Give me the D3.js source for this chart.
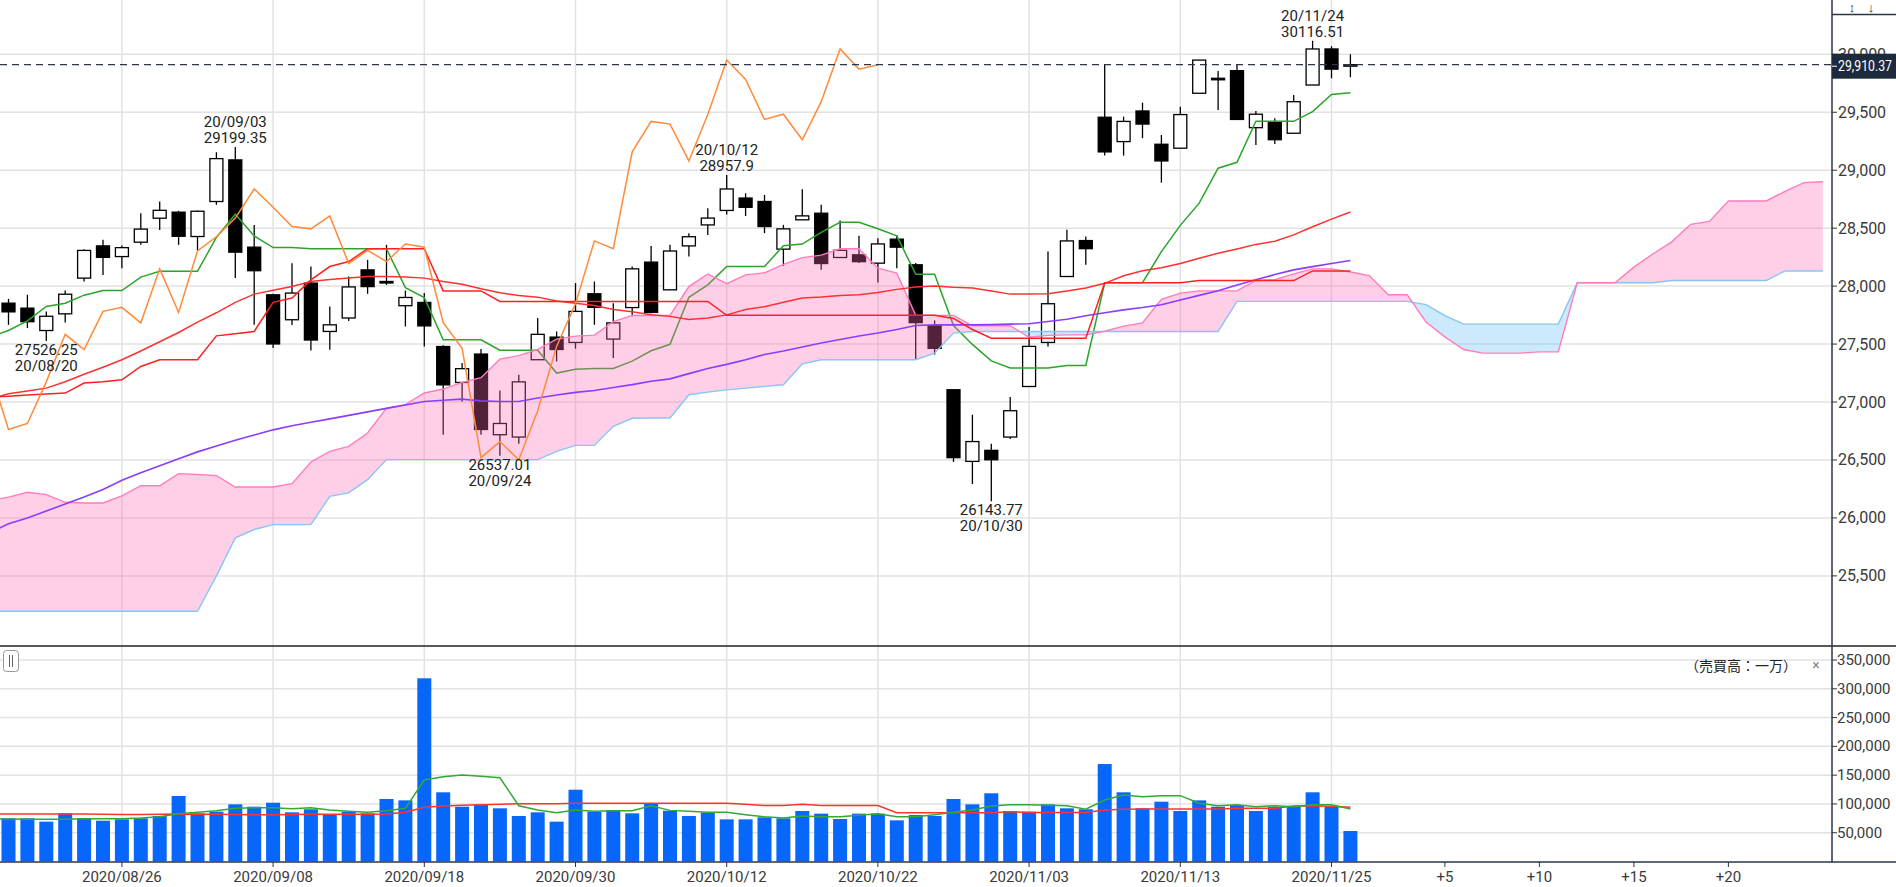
<!DOCTYPE html>
<html>
<head>
<meta charset="utf-8">
<script src="https://cdn.jsdelivr.net/npm/d3@7"></script>
<style>
  body { margin: 0; background: #fff; }
  svg { display: block; }
  text { font-family: Roboto, "Noto Sans", sans-serif; }
</style>
</head>
<body>
<div class="chart"></div>
<script>
// trading days (first one sits just off the left edge)
const dates = [
  "2020/08/17","2020/08/18","2020/08/19","2020/08/20","2020/08/21","2020/08/24","2020/08/25","2020/08/26","2020/08/27","2020/08/28","2020/08/31",
  "2020/09/01","2020/09/02","2020/09/03","2020/09/04","2020/09/08","2020/09/09","2020/09/10","2020/09/11","2020/09/14","2020/09/15","2020/09/16","2020/09/17","2020/09/18","2020/09/21","2020/09/22","2020/09/23","2020/09/24","2020/09/25","2020/09/28","2020/09/29","2020/09/30",
  "2020/10/01","2020/10/02","2020/10/05","2020/10/06","2020/10/07","2020/10/08","2020/10/09","2020/10/12","2020/10/13","2020/10/14","2020/10/15","2020/10/16","2020/10/19","2020/10/20","2020/10/21","2020/10/22","2020/10/23","2020/10/26","2020/10/27","2020/10/28","2020/10/29","2020/10/30",
  "2020/11/02","2020/11/03","2020/11/04","2020/11/05","2020/11/06","2020/11/09","2020/11/10","2020/11/11","2020/11/12","2020/11/13","2020/11/16","2020/11/17","2020/11/18","2020/11/19","2020/11/20","2020/11/23","2020/11/24","2020/11/25","2020/11/27"
];

const open = [
  27951, 27853, 27810, 27617, 27761, 28069, 28347, 28255, 28379, 28586, 28638,
  28428, 28730, 29089, 28336, 27925, 27710, 28026, 27609, 27725, 28140, 28040, 27831, 27859, 27479, 27169, 27414, 26718, 26698, 27365, 27560, 27514,
  27934, 27543, 27815, 28207, 27968, 28347, 28528, 28653, 28760, 28730, 28319, 28572, 28629, 28247, 28270, 28198, 28405, 28184, 27658, 27106, 26488, 26583,
  26698, 27134, 27514, 28083, 28393, 29457, 29247, 29511, 29224, 29190, 29664, 29793, 29859, 29367, 29414, 29319, 29735, 30046, 29905
];
const high = [
  27987, 27890, 27925, 27780, 27962, 28319, 28399, 28350, 28629, 28730, 28650,
  28652, 29155, 29199.35, 28528, 27935, 28198, 28169, 27824, 28083, 28227, 28356, 27962, 27940, 27490, 27336, 27457, 27100, 27235, 27724, 27609, 28026,
  28040, 27853, 28169, 28347, 28356, 28457, 28672, 28957.9, 28801, 28787, 28528, 28836, 28701, 28566, 28434, 28414, 28442, 28200, 27704, 27110, 26891, 26640,
  27043, 27647, 28298, 28486, 28428, 29914, 29462, 29583, 29304, 29548, 29951, 29856, 29916, 29511, 29448, 29649, 30116.51, 30070, 30000
];
const low = [
  27755, 27666, 27638, 27526.25, 27686, 28040, 28097, 28155, 28356, 28485, 28356,
  28307, 28701, 28069, 27666, 27466, 27664, 27445, 27451, 27700, 27934, 28010, 27652, 27480, 26718, 27005, 26718, 26537.01, 26640, 27365, 27350, 27460,
  27666, 27379, 27740, 27767, 27968, 28255, 28442, 28617, 28605, 28457, 28175, 28572, 28141, 28247, 28200, 28031, 28155, 27370, 27409, 26483, 26293, 26143.77,
  26681, 27134, 27480, 28083, 28184, 29126, 29126, 29276, 28893, 29190, 29664, 29520, 29434, 29218, 29227, 29319, 29735, 29793, 29802
];
const close = [
  27845, 27778, 27693, 27740, 27930, 28308, 28248, 28332, 28492, 28654, 28430,
  28646, 29100, 28293, 28133, 27501, 27940, 27535, 27666, 27993, 27996, 28032, 27902, 27657, 27148, 27288, 26763, 26815, 27174, 27584, 27453, 27782,
  27817, 27683, 28149, 27773, 28303, 28426, 28587, 28838, 28680, 28514, 28494, 28606, 28195, 28309, 28211, 28364, 28336, 27685, 27463, 26520, 26659, 26502,
  26925, 27480, 27848, 28390, 28323, 29158, 29421, 29398, 29080, 29480, 29950, 29783, 29438, 29483, 29263, 29591, 30046, 29872, 29910.37
];

// ichimoku conversion / base lines
const tenkan = [
  27560, 27617, 27700, 27825, 27853, 27922, 27962, 27962, 28078, 28128, 28128,
  28128, 28420, 28620, 28433, 28333, 28333, 28322, 28322, 28322, 28322, 28322, 27987, 27901, 27537, 27537, 27537, 27447, 27447, 27447, 27250, 27282,
  27289, 27289, 27353, 27442, 27498, 27904, 28011, 28169, 28169, 28169, 28349, 28363, 28463, 28550, 28550, 28495, 28434, 28103, 28103, 27660, 27497, 27355,
  27293, 27293, 27293, 27315, 27315, 28029, 28029, 28029, 28298, 28524, 28716, 29017, 29068, 29422, 29422, 29422, 29505, 29654, 29668
];
const kijun = [
  27045, 27050, 27060, 27070, 27077, 27164, 27175, 27192, 27307, 27365, 27365,
  27365, 27571, 27590, 27609, 27860, 27897, 28054, 28169, 28212, 28322, 28322, 28322, 28322, 27959, 27959, 27959, 27868, 27868, 27868, 27868, 27868,
  27868, 27868, 27868, 27868, 27868, 27868, 27868, 27748, 27748, 27748, 27748, 27748, 27748, 27748, 27748, 27748, 27748, 27748, 27748, 27721, 27626, 27551,
  27551, 27551, 27551, 27551, 27551, 28029, 28029, 28029, 28029, 28029, 28048, 28048, 28048, 28048, 28048, 28048, 28131, 28131, 28131
];
const ma25 = [
  27020, 27072, 27095, 27120, 27175, 27240, 27300, 27365, 27440, 27520, 27600,
  27690, 27770, 27860, 27931, 27965, 27997, 28040, 28057, 28070, 28083, 28083, 28078, 28069, 28040, 28017, 27977, 27942, 27919, 27905, 27871, 27852,
  27832, 27799, 27779, 27753, 27739, 27712, 27724, 27752, 27799, 27822, 27861, 27898, 27906, 27919, 27926, 27945, 27972, 27993, 28000, 27990, 27984, 27957,
  27931, 27932, 27935, 27958, 27983, 28024, 28090, 28133, 28159, 28195, 28240, 28284, 28321, 28360, 28387, 28442, 28512, 28578, 28640
];
const ma75 = [
  25870, 25950, 26000, 26060, 26120, 26180, 26245, 26325, 26390, 26450, 26510,
  26570, 26620, 26670, 26715, 26760, 26795, 26825, 26855, 26885, 26915, 26945, 26975, 27005, 27015, 27025, 27010, 27005, 27005, 27035, 27060, 27083,
  27100, 27125, 27150, 27180, 27200, 27245, 27290, 27325, 27365, 27410, 27440, 27475, 27510, 27540, 27570, 27595, 27625, 27660, 27666, 27666, 27666, 27668,
  27672, 27676, 27695, 27714, 27745, 27770, 27795, 27815, 27840, 27880, 27920, 27960, 28010, 28055, 28100, 28140, 28168, 28195, 28221
];

// leading spans, already shifted 25 bars ahead (first value sits at bar -1)
const spanA = [
  26150, 26180, 26221, 26201, 26135, 26129, 26129, 26190, 26278, 26278, 26382, 26375, 26365, 26267, 26267, 26267, 26296, 26483, 26574, 26617,
  26733, 26948, 26977, 27078, 27112, 27169, 27210, 27370, 27400, 27455, 27543, 27569, 27577, 27693, 27747, 27747, 27747, 27996, 28105, 28021,
  28097, 28115, 28188, 28246, 28267, 28322, 28322, 28155, 28112, 27748, 27748, 27748, 27658, 27658, 27658, 27559, 27575, 27579, 27579, 27611,
  27655, 27683, 27886, 27940, 27959, 27959, 27959, 28049, 28056, 28106, 28149, 28149, 28122, 28091, 27926, 27926, 27691, 27562, 27453, 27422,
  27422, 27422, 27433, 27433, 28029, 28029, 28029, 28164, 28277, 28382, 28533, 28558, 28735, 28735, 28735, 28818, 28893, 28900
];
const spanB = [
  25195, 25195, 25195, 25195, 25195, 25195, 25195, 25195, 25195, 25195, 25195, 25195, 25500, 25828, 25900, 25942, 25942, 25942, 26187, 26216,
  26330, 26503, 26503, 26503, 26503, 26503, 26503, 26503, 26503, 26503, 26574, 26626, 26626, 26790, 26860, 26862, 26862, 27063, 27085, 27105,
  27120, 27135, 27149, 27330, 27365, 27365, 27365, 27365, 27365, 27365, 27422, 27595, 27609, 27609, 27609, 27609, 27609, 27609, 27609, 27609,
  27609, 27609, 27609, 27609, 27609, 27609, 27868, 27868, 27868, 27868, 27868, 27868, 27868, 27868, 27868, 27868, 27841, 27746, 27672, 27672,
  27672, 27672, 27672, 27672, 28029, 28029, 28029, 28029, 28029, 28048, 28048, 28048, 28048, 28048, 28048, 28131, 28131, 28131
];

// volume (unit: 10,000 shares)
const volume = [
  78000, 75000, 75000, 69200, 83700, 75000, 70900, 73200, 75000, 79100, 113800,
  83700, 86600, 99300, 95200, 102100, 85400, 90700, 82500, 86600, 83700, 108600, 106200, 318200, 120200, 95200, 99300, 92400, 79100, 85400, 69200, 124700,
  86600, 89500, 83700, 99900, 88200, 79100, 84800, 73200, 73200, 76700, 75000, 87700, 83100, 73800, 83100, 83100, 71500, 80700, 79100, 108600, 99300, 118500,
  87700, 86600, 99300, 92400, 90700, 169300, 120200, 92400, 103900, 87700, 106200, 95200, 98100, 87700, 95200, 95200, 120200, 95200, 53000
];
const volMa5 = [
  73500, 73800, 73200, 73200, 73200, 74400, 74400, 74400, 75600, 77800, 83100,
  85400, 88200, 92400, 93500, 93400, 91700, 93500, 89500, 87200, 85400, 88200, 92400, 141500, 147300, 150300, 147900, 145500, 96900, 89500, 84800, 89500,
  87200, 88200, 88200, 96900, 88800, 87200, 85400, 85400, 81300, 77800, 75700, 79100, 77800, 77800, 80400, 83100, 77800, 77800, 81300, 85400, 89500, 96400,
  98400, 98400, 97800, 96900, 90700, 106800, 115600, 112600, 114400, 114400, 101100, 96900, 98400, 95200, 96900, 95200, 98400, 98400, 91200
];
const volMa25 = [
  82500, 82500, 82500, 82500, 82500, 82500, 82000, 81500, 81500, 82000, 82500,
  82000, 82000, 81500, 81000, 81000, 81500, 82000, 82000, 82000, 82000, 82500, 85400, 94100, 96400, 97500, 98500, 99300, 100200, 100200, 100200, 101100,
  101100, 101100, 101100, 101100, 101100, 101100, 101100, 101100, 99300, 97300, 97300, 99300, 97300, 97300, 97300, 97300, 84800, 84800, 84800, 84800, 84800, 84800,
  86600, 85100, 85100, 85100, 85100, 89500, 90700, 91400, 91400, 91400, 91400, 91400, 92400, 92400, 92400, 96400, 96900, 95800, 94100
];

const dateTicks = ["2020/08/26", "2020/09/08", "2020/09/18", "2020/09/30", "2020/10/12", "2020/10/22", "2020/11/03", "2020/11/13", "2020/11/25"];
const futureTicks = [5, 10, 15, 20];
const priceTicks = [25500, 26000, 26500, 27000, 27500, 28000, 28500, 29000, 29500, 30000];
const volTicks = [50000, 100000, 150000, 200000, 250000, 300000, 350000];
const highMarks = ["2020/09/03", "2020/10/12", "2020/11/24"];
const lowMarks = ["2020/08/20", "2020/09/24", "2020/10/30"];
const lastPrice = 29910.37;

// ---------------------------------------------------------------
const width = 1896, height = 887;
const axisX = 1832;
const mainBottom = 646, volTop = 647, volBottom = 862;

const svg = d3.select(".chart").append("svg").attr("width", width).attr("height", height);

const x = d3.scaleLinear().domain([0, 71]).range([8.5, 1350.4]);
const y = d3.scaleLinear().domain([25500, 30000]).range([575.9, 54.3]);
const yv = d3.scaleLinear().domain([0, 350000]).range([861.5, 660]);

const barOf = d => dates.indexOf(d) - 1;
const series = arr => arr.map((v, k) => [k - 1, v]);

const defs = svg.append("defs");
defs.append("clipPath").attr("id", "mainClip")
  .append("rect").attr("x", 0).attr("y", 0).attr("width", axisX).attr("height", mainBottom);
defs.append("clipPath").attr("id", "volClip")
  .append("rect").attr("x", 0).attr("y", volTop).attr("width", axisX).attr("height", volBottom - volTop);

const cloud = spanA.map((a, k) => ({ bar: k - 1, a: a, b: spanB[k] }));
defs.append("clipPath").attr("id", "aboveB")
  .append("path")
  .attr("d", d3.area().x(d => x(d.bar)).y0(0).y1(d => y(d.b))(cloud));
defs.append("clipPath").attr("id", "belowB")
  .append("path")
  .attr("d", d3.area().x(d => x(d.bar)).y0(d => y(d.b)).y1(mainBottom)(cloud));

// grid
const grid = svg.append("g");
grid.selectAll(".hgrid")
  .data(priceTicks)
  .join("line")
  .attr("x1", 0).attr("x2", axisX)
  .attr("y1", d => y(d)).attr("y2", d => y(d))
  .attr("stroke", "#e2e2e2").attr("stroke-width", 1.5);
grid.selectAll(".vgrid")
  .data(volTicks)
  .join("line")
  .attr("x1", 0).attr("x2", axisX)
  .attr("y1", d => yv(d)).attr("y2", d => yv(d))
  .attr("stroke", "#e2e2e2").attr("stroke-width", 1.5);
grid.selectAll(".dgrid")
  .data(dateTicks)
  .join("line")
  .attr("x1", d => x(barOf(d))).attr("x2", d => x(barOf(d)))
  .attr("y1", 0).attr("y2", volBottom)
  .attr("stroke", "#e2e2e2").attr("stroke-width", 1.5);

// main price panel
const main = svg.append("g").attr("clip-path", "url(#mainClip)");
const priceLine = d3.line().x(d => x(d[0])).y(d => y(d[1]));

const candles = dates.map((d, k) => ({ bar: k - 1, o: open[k], h: high[k], l: low[k], c: close[k] }));
const bodyW = 13;
main.selectAll(".wick")
  .data(candles)
  .join("line")
  .attr("x1", d => x(d.bar)).attr("x2", d => x(d.bar))
  .attr("y1", d => y(d.h)).attr("y2", d => y(d.l))
  .attr("stroke", "#000").attr("stroke-width", 1.3);
main.selectAll(".body")
  .data(candles)
  .join("rect")
  .attr("x", d => x(d.bar) - bodyW / 2)
  .attr("y", d => y(Math.max(d.o, d.c)))
  .attr("width", bodyW)
  .attr("height", d => Math.max(1.5, Math.abs(y(d.o) - y(d.c))))
  .attr("fill", d => (d.c >= d.o ? "#fff" : "#000"))
  .attr("stroke", "#000").attr("stroke-width", 1.3);

// conversion line sits under the cloud
main.append("path")
  .attr("d", priceLine(series(tenkan)))
  .attr("fill", "none").attr("stroke", "#2aa52a").attr("stroke-width", 1.5);

// cloud
const between = d3.area().x(d => x(d.bar)).y0(d => y(d.a)).y1(d => y(d.b));
main.append("g").attr("clip-path", "url(#aboveB)")
  .append("path").attr("d", between(cloud))
  .attr("fill", "rgb(255,105,180)").attr("fill-opacity", 0.32);
main.append("g").attr("clip-path", "url(#belowB)")
  .append("path").attr("d", between(cloud))
  .attr("fill", "rgb(135,206,250)").attr("fill-opacity", 0.42);
main.append("path")
  .attr("d", priceLine(cloud.map(d => [d.bar, d.b])))
  .attr("fill", "none").attr("stroke", "#86c6f4").attr("stroke-width", 1.4);
main.append("path")
  .attr("d", priceLine(cloud.map(d => [d.bar, d.a])))
  .attr("fill", "none").attr("stroke", "#ff7cbc").attr("stroke-width", 1.4);

// moving averages, base line, lagging span
main.append("path")
  .attr("d", priceLine(series(ma75)))
  .attr("fill", "none").attr("stroke", "#8a3dff").attr("stroke-width", 1.6);
main.append("path")
  .attr("d", priceLine(series(ma25)))
  .attr("fill", "none").attr("stroke", "#ff3030").attr("stroke-width", 1.5);
main.append("path")
  .attr("d", priceLine(series(kijun)))
  .attr("fill", "none").attr("stroke", "#ff2020").attr("stroke-width", 1.5);
const lagging = close.map((c, k) => [k - 1 - 25, c]).filter(d => d[0] >= -1);
main.append("path")
  .attr("d", priceLine(lagging))
  .attr("fill", "none").attr("stroke", "#ff8a3a").attr("stroke-width", 1.5);

// high / low notes
highMarks.forEach(d => {
  const k = dates.indexOf(d);
  const g = main.append("g").attr("font-size", 15).attr("fill", "#222").attr("text-anchor", "middle");
  g.append("text").attr("x", x(k - 1)).attr("y", y(high[k]) - 25).attr("dominant-baseline", "central").text(d.slice(2));
  g.append("text").attr("x", x(k - 1)).attr("y", y(high[k]) - 9).attr("dominant-baseline", "central").text(String(high[k]));
});
lowMarks.forEach(d => {
  const k = dates.indexOf(d);
  const g = main.append("g").attr("font-size", 15).attr("fill", "#222").attr("text-anchor", "middle");
  g.append("text").attr("x", x(k - 1)).attr("y", y(low[k]) + 9).attr("dominant-baseline", "central").text(String(low[k]));
  g.append("text").attr("x", x(k - 1)).attr("y", y(low[k]) + 25).attr("dominant-baseline", "central").text(d.slice(2));
});

// last price dashed line
svg.append("line")
  .attr("x1", 0).attr("x2", axisX)
  .attr("y1", y(lastPrice)).attr("y2", y(lastPrice))
  .attr("stroke", "#2b3448").attr("stroke-width", 1.3).attr("stroke-dasharray", "7,5");

// volume panel
const vol = svg.append("g").attr("clip-path", "url(#volClip)");
vol.selectAll(".vbar")
  .data(volume.map((v, k) => [k - 1, v]))
  .join("rect")
  .attr("x", d => x(d[0]) - 7)
  .attr("y", d => yv(d[1]))
  .attr("width", 14)
  .attr("height", d => yv(0) - yv(d[1]))
  .attr("fill", "#0867fb");
const volLine = d3.line().x(d => x(d[0])).y(d => yv(d[1]));
vol.append("path")
  .attr("d", volLine(series(volMa25)))
  .attr("fill", "none").attr("stroke", "#ff3333").attr("stroke-width", 1.5);
vol.append("path")
  .attr("d", volLine(series(volMa5)))
  .attr("fill", "none").attr("stroke", "#33a833").attr("stroke-width", 1.5);

// frame lines
svg.append("line").attr("x1", 0).attr("x2", width).attr("y1", mainBottom).attr("y2", mainBottom)
  .attr("stroke", "#222").attr("stroke-width", 1.5);
svg.append("line").attr("x1", 0).attr("x2", width).attr("y1", volBottom).attr("y2", volBottom)
  .attr("stroke", "#2b3448").attr("stroke-width", 1.5);
svg.append("line").attr("x1", axisX).attr("x2", axisX).attr("y1", 0).attr("y2", volBottom)
  .attr("stroke", "#2b3448").attr("stroke-width", 1.5);
svg.append("line").attr("x1", axisX).attr("x2", width).attr("y1", 14.5).attr("y2", 14.5)
  .attr("stroke", "#2b3448").attr("stroke-width", 1.5);
svg.append("text").attr("x", 1852).attr("y", 7).attr("font-size", 13).attr("fill", "#333")
  .attr("text-anchor", "middle").attr("dominant-baseline", "central").text("↕");
svg.append("text").attr("x", 1871).attr("y", 7).attr("font-size", 13).attr("fill", "#333")
  .attr("text-anchor", "middle").attr("dominant-baseline", "central").text("↓");

// price axis
const pAxis = svg.append("g");
pAxis.selectAll("line")
  .data(priceTicks)
  .join("line")
  .attr("x1", axisX).attr("x2", axisX + 5)
  .attr("y1", d => y(d)).attr("y2", d => y(d))
  .attr("stroke", "#333");
pAxis.selectAll("text")
  .data(priceTicks)
  .join("text")
  .attr("x", axisX + 6).attr("y", d => y(d))
  .attr("dominant-baseline", "central")
  .attr("font-size", 16).attr("fill", "#3a3a3a")
  .text(d => d3.format(",")(d));

// last price tag
svg.append("rect")
  .attr("x", axisX).attr("y", y(lastPrice) - 11)
  .attr("width", width - axisX).attr("height", 25)
  .attr("fill", "#1d2a3d");
svg.append("line")
  .attr("x1", axisX).attr("x2", axisX + 5)
  .attr("y1", y(lastPrice) + 1.5).attr("y2", y(lastPrice) + 1.5)
  .attr("stroke", "#fff");
svg.append("text")
  .attr("x", axisX + 6).attr("y", y(lastPrice) + 1.5)
  .attr("dominant-baseline", "central")
  .attr("font-size", 15).attr("fill", "#fff")
  .attr("textLength", 54).attr("lengthAdjust", "spacingAndGlyphs")
  .text(d3.format(",.2f")(lastPrice));

// volume axis
const vAxis = svg.append("g");
vAxis.selectAll("line")
  .data(volTicks)
  .join("line")
  .attr("x1", axisX).attr("x2", axisX + 5)
  .attr("y1", d => yv(d)).attr("y2", d => yv(d))
  .attr("stroke", "#333");
vAxis.selectAll("text")
  .data(volTicks)
  .join("text")
  .attr("x", axisX + 5).attr("y", d => yv(d))
  .attr("dominant-baseline", "central")
  .attr("font-size", 15).attr("fill", "#3a3a3a")
  .text(d => d3.format(",")(d));

svg.append("text")
  .attr("x", 1797).attr("y", 665)
  .attr("text-anchor", "end").attr("dominant-baseline", "central")
  .attr("font-size", 14).attr("fill", "#222")
  .style("font-family", "'Noto Sans CJK JP', sans-serif")
  .text("（売買高：一万）");
svg.append("text")
  .attr("x", 1816).attr("y", 665)
  .attr("text-anchor", "middle").attr("dominant-baseline", "central")
  .attr("font-size", 14).attr("fill", "#888")
  .text("×");

// panel handle icon
svg.append("rect").attr("x", 3.5).attr("y", 650.5).attr("width", 15).attr("height", 21).attr("rx", 3)
  .attr("fill", "#fff").attr("stroke", "#999");
svg.append("line").attr("x1", 9.5).attr("x2", 9.5).attr("y1", 655).attr("y2", 667).attr("stroke", "#666");
svg.append("line").attr("x1", 12.5).attr("x2", 12.5).attr("y1", 655).attr("y2", 667).attr("stroke", "#666");

// x axis labels
const xTicks = dateTicks.map(d => ({ bar: barOf(d), label: d }))
  .concat(futureTicks.map(n => ({ bar: 71 + n, label: "+" + n })));
const xAxis = svg.append("g");
xAxis.selectAll("line")
  .data(xTicks)
  .join("line")
  .attr("x1", d => x(d.bar)).attr("x2", d => x(d.bar))
  .attr("y1", volBottom).attr("y2", volBottom + 5)
  .attr("stroke", "#333");
xAxis.selectAll("text")
  .data(xTicks)
  .join("text")
  .attr("x", d => x(d.bar)).attr("y", 877)
  .attr("text-anchor", "middle").attr("dominant-baseline", "central")
  .attr("font-size", 15).attr("fill", "#3a3a3a")
  .text(d => d.label);
</script>
</body>
</html>
